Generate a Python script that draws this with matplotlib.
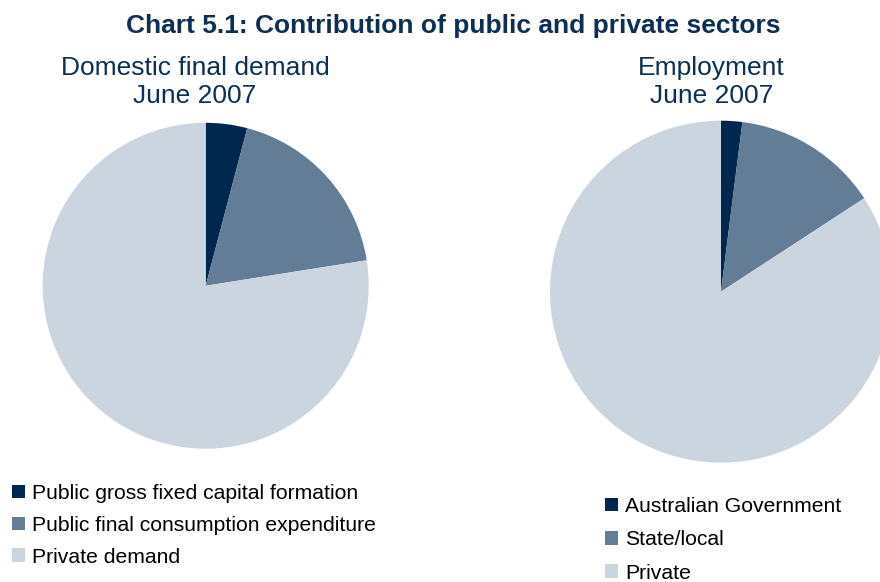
import matplotlib.pyplot as plt

plt.rcParams['font.family'] = ['Liberation Sans', 'DejaVu Sans']

# Shares (%) at June 2007
demand_labels = ['Public gross fixed capital formation',
                 'Public final consumption expenditure',
                 'Private demand']
demand_shares = [4.1, 18.4, 77.5]

employment_labels = ['Australian Government', 'State/local', 'Private']
employment_shares = [2.0, 13.8, 84.2]

colours = ['#00284F', '#647D96', '#CBD5DF']
navy = '#0B2F57'

fig = plt.figure(figsize=(8.8, 5.82), dpi=100)

fig.text(0.515, 0.9428, 'Chart 5.1: Contribution of public and private sectors',
         ha='center', va='baseline', fontsize=19, fontweight='bold', color=navy)


def draw_pie(rect, shares, labels, title_lines, title_x, legend_anchor, spacing):
    ax = fig.add_axes(rect)
    wedges, _ = ax.pie(shares, colors=colours, startangle=90, counterclock=False,
                       wedgeprops=dict(linewidth=0))
    ax.set_xlim(-1, 1)
    ax.set_ylim(-1, 1)
    ax.set_aspect('auto')
    for line, y in zip(title_lines, [0.8711, 0.823]):
        fig.text(title_x, y, line, ha='center', va='baseline',
                 fontsize=19, color=navy)
    fig.legend(wedges, labels, loc='upper left', bbox_to_anchor=legend_anchor,
               frameon=False, fontsize=15.2, handlelength=0.62, handleheight=0.62,
               handletextpad=0.33, labelspacing=spacing, borderpad=0, borderaxespad=0)
    return ax


draw_pie([0.0485, 0.229, 0.3705, 0.560], demand_shares, demand_labels,
         ['Domestic final demand', 'June 2007'], 0.2216, (0.0136, 0.1684), 0.61)
draw_pie([0.625, 0.205, 0.3886, 0.5876], employment_shares, employment_labels,
         ['Employment', 'June 2007'], 0.8085, (0.6875, 0.1461), 0.68)

fig.savefig('out.png', dpi=100)
